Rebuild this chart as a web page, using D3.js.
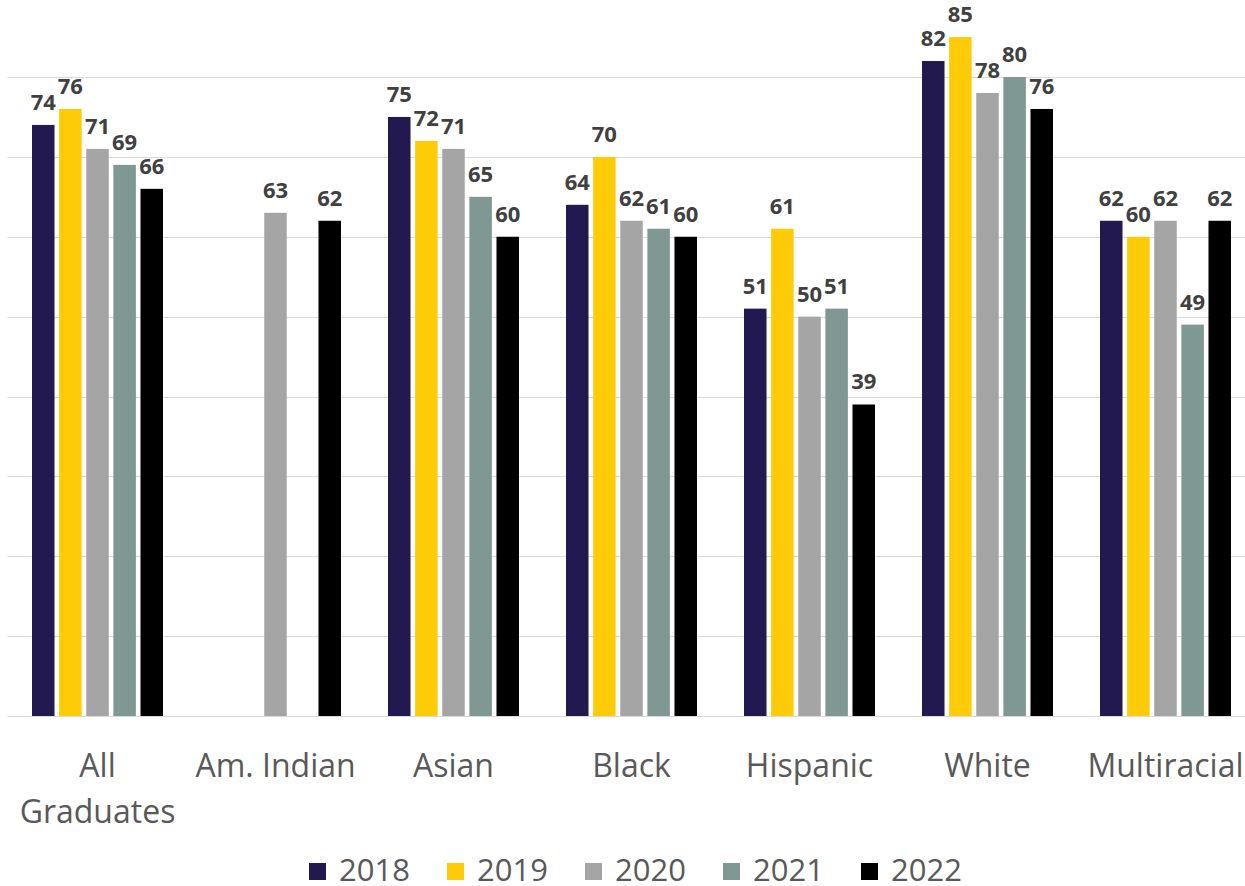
<!DOCTYPE html>
<html>
<head>
<meta charset="utf-8">
<script src="https://cdn.jsdelivr.net/npm/d3@7"></script>
<style>
  html, body { margin: 0; padding: 0; background: #ffffff; overflow: hidden; }
  svg { display: block; font-family: "Open Sans", "Noto Sans", sans-serif; }
</style>
</head>
<body>
<svg id="chart" width="1245" height="886"></svg>
<script>
// Graduation rates by group, 2018–2022
const categories = ["All Graduates", "Am. Indian", "Asian", "Black", "Hispanic", "White", "Multiracial"];
const years = ["2018", "2019", "2020", "2021", "2022"];
const v2018 = [74, null, 75, 64, 51, 82, 62];
const v2019 = [76, null, 72, 70, 61, 85, 60];
const v2020 = [71, 63, 71, 62, 50, 78, 62];
const v2021 = [69, null, 65, 61, 51, 80, 49];
const v2022 = [66, 62, 60, 60, 39, 76, 62];
const yTicks = [0, 10, 20, 30, 40, 50, 60, 70, 80];

const seriesValues = [v2018, v2019, v2020, v2021, v2022];
const colors = ["#21194f", "#fecb08", "#a5a5a5", "#7f9893", "#000000"];

const svg = d3.select("#chart");

const x0 = d3.scaleBand().domain(categories).range([8.5, 1254.5]).padding(0);
const x1 = d3.scaleBand().domain(years).range([23.5, 154.5]).paddingInner(0.17).paddingOuter(0);
const y = d3.scaleLinear().domain([0, 80]).range([716, 77]);
const color = d3.scaleOrdinal().domain(years).range(colors);

// Horizontal gridlines
svg.append("g")
  .selectAll("line")
  .data(yTicks)
  .join("line")
  .attr("x1", x0.range()[0] - 1)
  .attr("x2", x0.range()[1])
  .attr("y1", d => Math.round(y(d)) + 0.5)
  .attr("y2", d => Math.round(y(d)) + 0.5)
  .attr("stroke", "#d9d9d9")
  .attr("stroke-width", 1);

// Flatten into rows for each group/year
const rows = [];
categories.forEach((c, i) => {
  years.forEach((yr, j) => {
    const v = seriesValues[j][i];
    if (v != null) rows.push({ category: c, year: yr, value: v });
  });
});

// Bars
svg.append("g")
  .selectAll("rect")
  .data(rows)
  .join("rect")
  .attr("x", d => x0(d.category) + x1(d.year))
  .attr("width", x1.bandwidth())
  .attr("y", d => y(d.value))
  .attr("height", d => y(0) - y(d.value))
  .attr("fill", d => color(d.year));

// Value labels
svg.append("g")
  .selectAll("text")
  .data(rows)
  .join("text")
  .attr("x", d => x0(d.category) + x1(d.year) + x1.bandwidth() / 2)
  .attr("y", d => y(d.value) - 15)
  .attr("text-anchor", "middle")
  .attr("font-size", 22)
  .attr("font-weight", 700)
  .attr("fill", "#404040")
  .text(d => d.value);

// Category axis
const xAxis = svg.append("g")
  .attr("transform", `translate(0,${y(0)})`)
  .call(d3.axisBottom(x0).tickSize(0).tickSizeOuter(0));
xAxis.select(".domain").remove();
xAxis.selectAll("text")
  .attr("font-family", "\"Open Sans\", \"Noto Sans\", sans-serif")
  .attr("font-size", 32)
  .attr("fill", "#595959")
  .attr("dy", null)
  .attr("y", 61)
  .each(function (d) {
    // wrap labels that are wider than their band
    const t = d3.select(this);
    const words = d.split(" ");
    t.text(null);
    let line = [];
    let tspan = t.append("tspan").attr("x", 0).attr("y", 61);
    let lineNo = 0;
    words.forEach(w => {
      line.push(w);
      tspan.text(line.join(" "));
      if (tspan.node().getComputedTextLength() > x0.bandwidth() && line.length > 1) {
        line.pop();
        tspan.text(line.join(" "));
        line = [w];
        lineNo += 1;
        tspan = t.append("tspan").attr("x", 0).attr("y", 61 + lineNo * 46).text(w);
      }
    });
  });

// Legend
const legendStep = 138;
const legendCenter = 636.5;
const legendWidth = (years.length - 1) * legendStep + 103;
const legend = svg.append("g")
  .attr("transform", `translate(${legendCenter - legendWidth / 2},0)`);
const items = legend.selectAll("g")
  .data(years)
  .join("g")
  .attr("transform", (d, i) => `translate(${i * legendStep},0)`);
items.append("rect")
  .attr("x", 0)
  .attr("y", 863)
  .attr("width", 17)
  .attr("height", 17)
  .attr("fill", d => color(d));
items.append("text")
  .attr("x", 30)
  .attr("y", 881)
  .attr("font-size", 31)
  .attr("fill", "#595959")
  .text(d => d);
</script>
</body>
</html>
